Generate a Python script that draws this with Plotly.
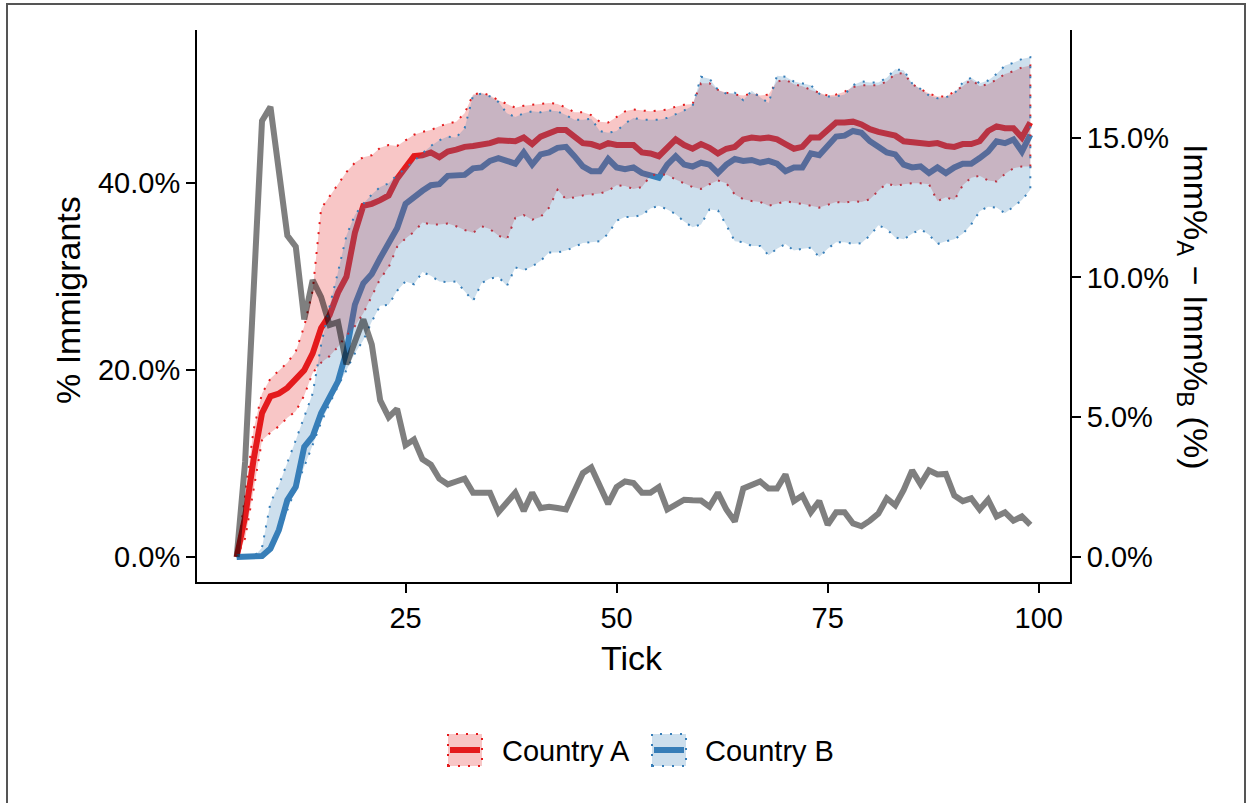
import plotly.graph_objects as go

# ---------------- data ----------------
ticks = list(range(5, 100))

country_a_mean = [
    0.0, 4.3, 10.4, 15.4, 17.2, 17.5, 18.1, 19.0, 20.0, 21.8,
    24.5, 25.9, 28.3, 30.0, 34.7, 37.6, 37.8, 38.2, 38.7, 40.5,
    41.8, 42.9, 43.0, 43.3, 42.8, 43.4, 43.6, 43.9, 44.0, 44.1,
    44.3, 44.6, 44.6, 44.5, 44.9, 44.2, 45.0, 45.3, 45.7, 45.7,
    44.9, 44.3, 44.2, 43.9, 44.3, 44.1, 44.1, 44.1, 43.3, 43.2,
    42.9, 43.8, 44.7, 44.1, 43.7, 44.2, 43.8, 43.2, 43.7, 43.9,
    44.7, 44.9, 44.8, 44.9, 44.7, 44.2, 43.7, 43.9, 44.9, 44.9,
    45.6, 46.5, 46.5, 46.6, 46.3, 45.8, 45.5, 45.3, 45.1, 44.5,
    44.4, 44.3, 44.2, 44.3, 44.0, 43.9, 44.2, 44.2, 44.5, 45.6,
    46.1, 45.9, 45.9, 44.9, 46.5,
]
country_a_low = [
    0.0, 2.0, 7.2, 12.5, 13.3, 14.0, 14.9, 15.6, 17.3, 19.7,
    20.8, 21.5, 22.5, 23.7, 24.7, 26.1, 27.9, 29.8, 31.0, 33.2,
    34.1, 34.8, 35.8, 35.6, 35.6, 35.7, 35.4, 35.0, 34.7, 35.4,
    35.1, 34.4, 34.0, 36.3, 36.6, 36.1, 36.4, 37.4, 39.3, 38.3,
    38.5, 38.7, 38.8, 38.9, 39.2, 39.8, 39.7, 39.4, 39.6, 40.8,
    41.0, 40.9, 40.4, 40.0, 39.6, 39.4, 39.9, 40.3, 40.0, 38.8,
    38.3, 38.1, 38.0, 37.6, 37.8, 38.1, 37.9, 37.8, 37.6, 37.4,
    37.7, 38.0, 37.9, 38.1, 38.0, 38.3, 39.2, 40.0, 39.7, 39.9,
    40.0, 40.0, 39.9, 38.1, 38.5, 38.2, 39.8, 40.6, 40.8, 40.3,
    40.2, 41.0, 41.6, 41.8, 41.8,
]
country_a_high = [
    0.0, 6.5, 13.6, 17.5, 19.1, 20.0, 20.8, 22.0, 24.7, 28.5,
    37.3, 38.6, 39.9, 41.2, 42.2, 42.8, 43.0, 43.8, 44.1, 44.0,
    44.6, 45.2, 45.5, 45.7, 46.1, 46.4, 46.6, 47.5, 49.5, 49.7,
    49.4, 48.9, 48.5, 48.1, 48.3, 48.4, 48.5, 48.6, 48.5, 48.1,
    47.6, 47.6, 47.3, 46.6, 46.5, 47.1, 47.7, 47.9, 47.8, 47.7,
    47.8, 47.9, 48.2, 48.4, 48.5, 50.7, 50.7, 50.0, 49.7, 49.5,
    49.4, 49.6, 49.4, 49.5, 50.9, 51.1, 50.6, 50.4, 50.0, 49.7,
    49.4, 49.5, 49.8, 50.3, 50.5, 50.5, 50.5, 50.9, 51.7, 51.8,
    50.6, 50.1, 49.6, 49.3, 49.3, 49.8, 50.4, 51.1, 50.4, 50.6,
    51.1, 51.7, 52.0, 52.4, 52.6,
]

country_b_mean = [
    0.0, 0.0, 0.0, 0.1, 0.9, 2.9, 6.1, 7.5, 11.8, 12.9,
    15.4, 17.2, 18.8, 22.0, 27.0, 29.3, 30.3, 32.0, 33.5, 35.2,
    37.8, 38.6, 39.2, 39.8, 39.9, 40.8, 40.9, 40.9, 41.6, 41.7,
    42.4, 42.7, 42.4, 42.1, 43.3, 42.0, 43.1, 43.3, 43.8, 43.9,
    42.9, 41.8, 41.3, 41.3, 42.6, 41.7, 41.5, 41.7, 41.1, 40.9,
    40.6, 42.0, 42.9, 42.0, 41.8, 42.2, 42.0, 41.1, 42.0, 42.6,
    42.4, 42.5, 42.2, 42.4, 42.1, 41.3, 41.7, 41.7, 43.2, 43.0,
    44.0, 45.0, 45.1, 45.6, 45.4, 44.5, 43.9, 43.3, 43.1, 42.0,
    41.7, 41.8, 41.1, 41.7, 41.1, 41.7, 42.1, 42.1, 42.7, 43.4,
    44.5, 44.3, 44.7, 43.4, 45.2,
]
country_b_low = [
    0.0, 0.0, 0.0, 0.0, 0.7, 2.7, 5.0, 7.4, 9.7, 12.0,
    14.4, 16.4, 18.3, 20.0, 21.8, 23.2, 25.2, 26.9, 27.0, 28.5,
    29.5, 29.2, 30.5, 30.1, 29.5, 29.4, 29.5, 28.5, 27.4, 29.3,
    29.8, 30.0, 29.0, 31.0, 30.7, 31.1, 31.7, 32.6, 32.6, 32.8,
    33.2, 33.6, 33.7, 33.8, 34.6, 36.0, 36.4, 36.4, 36.6, 37.3,
    37.6, 37.2, 36.7, 35.9, 35.3, 35.6, 37.2, 37.1, 35.5, 33.8,
    33.7, 33.3, 33.3, 32.3, 33.0, 33.5, 32.8, 33.0, 33.1, 32.1,
    33.0, 33.7, 33.7, 33.5, 33.6, 34.4, 35.5, 35.1, 34.2, 34.0,
    34.6, 35.1, 34.5, 33.5, 33.8, 34.0, 34.6, 35.6, 37.0, 37.5,
    37.4, 36.8, 37.5, 38.2, 39.3,
]
country_b_high = [
    0.0, 0.0, 0.0, 1.0, 5.8, 7.7, 10.0, 12.5, 15.0, 17.5,
    22.7, 26.8, 30.5, 34.4, 36.6, 37.8, 38.8, 39.6, 40.0, 40.9,
    41.6, 42.4, 43.2, 44.0, 44.6, 45.0, 44.9, 45.9, 49.4, 49.6,
    49.3, 48.7, 47.5, 47.1, 47.5, 47.7, 47.6, 47.8, 47.7, 47.3,
    46.8, 46.8, 46.9, 45.6, 45.4, 45.6, 46.4, 47.0, 46.8, 46.8,
    46.8, 47.0, 47.4, 47.8, 48.3, 51.4, 51.2, 50.0, 49.6, 49.7,
    48.9, 49.9, 49.2, 48.6, 51.5, 51.4, 50.9, 50.7, 50.5, 49.6,
    49.3, 49.3, 49.5, 50.5, 50.9, 50.8, 50.8, 51.3, 52.2, 52.1,
    50.7, 50.1, 49.4, 49.1, 49.2, 49.6, 50.8, 51.3, 50.7, 51.0,
    51.7, 52.6, 52.9, 53.3, 53.5,
]

# gap between the two countries (right axis)
gap_a_minus_b = [
    0.0, 3.4, 9.5, 15.6, 16.1, 13.8, 11.5, 11.1, 8.5, 9.9,
    9.3, 8.3, 8.4, 6.9, 7.7, 8.5, 7.6, 5.6, 5.0, 5.3,
    4.0, 4.2, 3.5, 3.3, 2.8, 2.6, 2.7, 2.8, 2.3, 2.3,
    2.3, 1.6, 1.95, 2.3, 1.65, 2.3, 1.75, 1.8, 1.75, 1.7,
    2.35, 3.0, 3.2, 2.5, 1.9, 2.5, 2.7, 2.65, 2.3, 2.3,
    2.5, 1.7, 1.85, 2.05, 2.03, 2.02, 1.8, 2.3, 1.7, 1.27,
    2.45, 2.6, 2.7, 2.45, 2.45, 2.95, 2.0, 2.2, 1.6, 2.0,
    1.15, 1.6, 1.6, 1.2, 1.1, 1.3, 1.55, 2.1, 1.85, 2.4,
    3.1, 2.6, 3.1, 2.95, 2.97, 2.2, 2.0, 2.1, 1.7, 2.05,
    1.45, 1.6, 1.3, 1.45, 1.15,
]

left_tick_vals = [0, 20, 40]
left_tick_text = ["0.0%", "20.0%", "40.0%"]
right_tick_vals = [0, 5, 10, 15]
right_tick_text = ["0.0%", "5.0%", "10.0%", "15.0%"]
x_tick_vals = [25, 50, 75, 100]
series_names = ["Country A", "Country B"]

# ---------------- styling ----------------
W, H = 1252, 803
L, R, T, B = 197, 182, 30, 221
FONT = "Liberation Sans, Arial, Helvetica, sans-serif"
RED = "#e41a1c"
BLUE = "#377eb8"
RED_FILL = "rgba(228,26,28,0.25)"
BLUE_FILL = "rgba(55,126,184,0.25)"
DOTS = "2px,8px"
TICK_SIZE = 29
TITLE_SIZE = 34


def px_x(px):
    return (px - L) / (W - L - R)


def px_y(py):
    return (H - B - py) / (H - T - B)


fig = go.Figure()

# mean lines first, so the bands sit on top of them
for name, vals, col in [(series_names[0], country_a_mean, RED),
                        (series_names[1], country_b_mean, BLUE)]:
    fig.add_trace(go.Scatter(
        x=ticks, y=vals, mode="lines", name=name, showlegend=False,
        line=dict(color=col, width=6), hoverinfo="x+y",
    ))

# uncertainty bands with dotted outlines
for name, lo, hi, col, fillc in [
    (series_names[0], country_a_low, country_a_high, RED, RED_FILL),
    (series_names[1], country_b_low, country_b_high, BLUE, BLUE_FILL),
]:
    fig.add_trace(go.Scatter(
        x=ticks + ticks[::-1], y=hi + lo[::-1], mode="lines",
        fill="toself", fillcolor=fillc, name=name, showlegend=False,
        line=dict(color=col, width=2, dash=DOTS), hoverinfo="skip",
    ))

# difference on the secondary axis
fig.add_trace(go.Scatter(
    x=ticks, y=gap_a_minus_b, mode="lines", yaxis="y2", showlegend=False,
    line=dict(color="rgba(0,0,0,0.5)", width=6), name="A − B",
))

axis_common = dict(
    showgrid=False, zeroline=False, showline=True, linecolor="black",
    linewidth=2, ticks="outside", ticklen=9, tickwidth=2, tickcolor="black",
    tickfont=dict(family=FONT, size=TICK_SIZE, color="black"),
)

fig.update_layout(
    width=W, height=H,
    margin=dict(l=L, r=R, t=T, b=B, pad=0),
    paper_bgcolor="white", plot_bgcolor="white",
    showlegend=False,
    xaxis=dict(range=[0.3, 103.7], tickvals=x_tick_vals, **axis_common),
    yaxis=dict(range=[-2.676, 56.41], tickvals=left_tick_vals,
               ticktext=left_tick_text, **axis_common),
    yaxis2=dict(range=[-0.894, 18.85], tickvals=right_tick_vals,
                ticktext=right_tick_text, overlaying="y", side="right",
                **axis_common),
)

annos = [
    dict(text="Tick", x=px_x(632), y=px_y(658), textangle=0),
    dict(text="% Immigrants", x=px_x(68), y=px_y(300), textangle=-90),
    dict(text="Imm%<sub>A</sub> − Imm%<sub>B</sub> (%)", x=px_x(1194),
         y=px_y(306), textangle=90),
]
for a in annos:
    fig.add_annotation(
        text=a["text"], x=a["x"], y=a["y"], xref="paper", yref="paper",
        showarrow=False, textangle=a["textangle"],
        font=dict(family=FONT, size=TITLE_SIZE, color="black"),
        xanchor="center", yanchor="middle",
    )

# legend drawn below the axes
shapes = []
legend_items = [
    (series_names[0], RED, RED_FILL, 448, 500),
    (series_names[1], BLUE, BLUE_FILL, 652, 703),
]
for name, col, fillc, sx, tx in legend_items:
    shapes.append(dict(
        type="rect", xref="paper", yref="paper",
        x0=px_x(sx), x1=px_x(sx + 34), y0=px_y(766), y1=px_y(734),
        fillcolor=fillc, line=dict(color=col, width=2, dash=DOTS),
    ))
    shapes.append(dict(
        type="line", xref="paper", yref="paper",
        x0=px_x(sx + 2), x1=px_x(sx + 32), y0=px_y(750), y1=px_y(750),
        line=dict(color=col, width=6),
    ))
    fig.add_annotation(
        text=name, x=px_x(tx), y=px_y(751), xref="paper", yref="paper",
        showarrow=False, xanchor="left", yanchor="middle",
        font=dict(family=FONT, size=TICK_SIZE, color="black"),
    )

# figure frame
shapes.append(dict(
    type="rect", xref="paper", yref="paper",
    x0=px_x(7), x1=px_x(1245), y0=px_y(812), y1=px_y(4),
    line=dict(color="#555555", width=2), fillcolor="rgba(0,0,0,0)",
    layer="below",
))
fig.update_layout(shapes=shapes)

fig.write_html("out.html")
